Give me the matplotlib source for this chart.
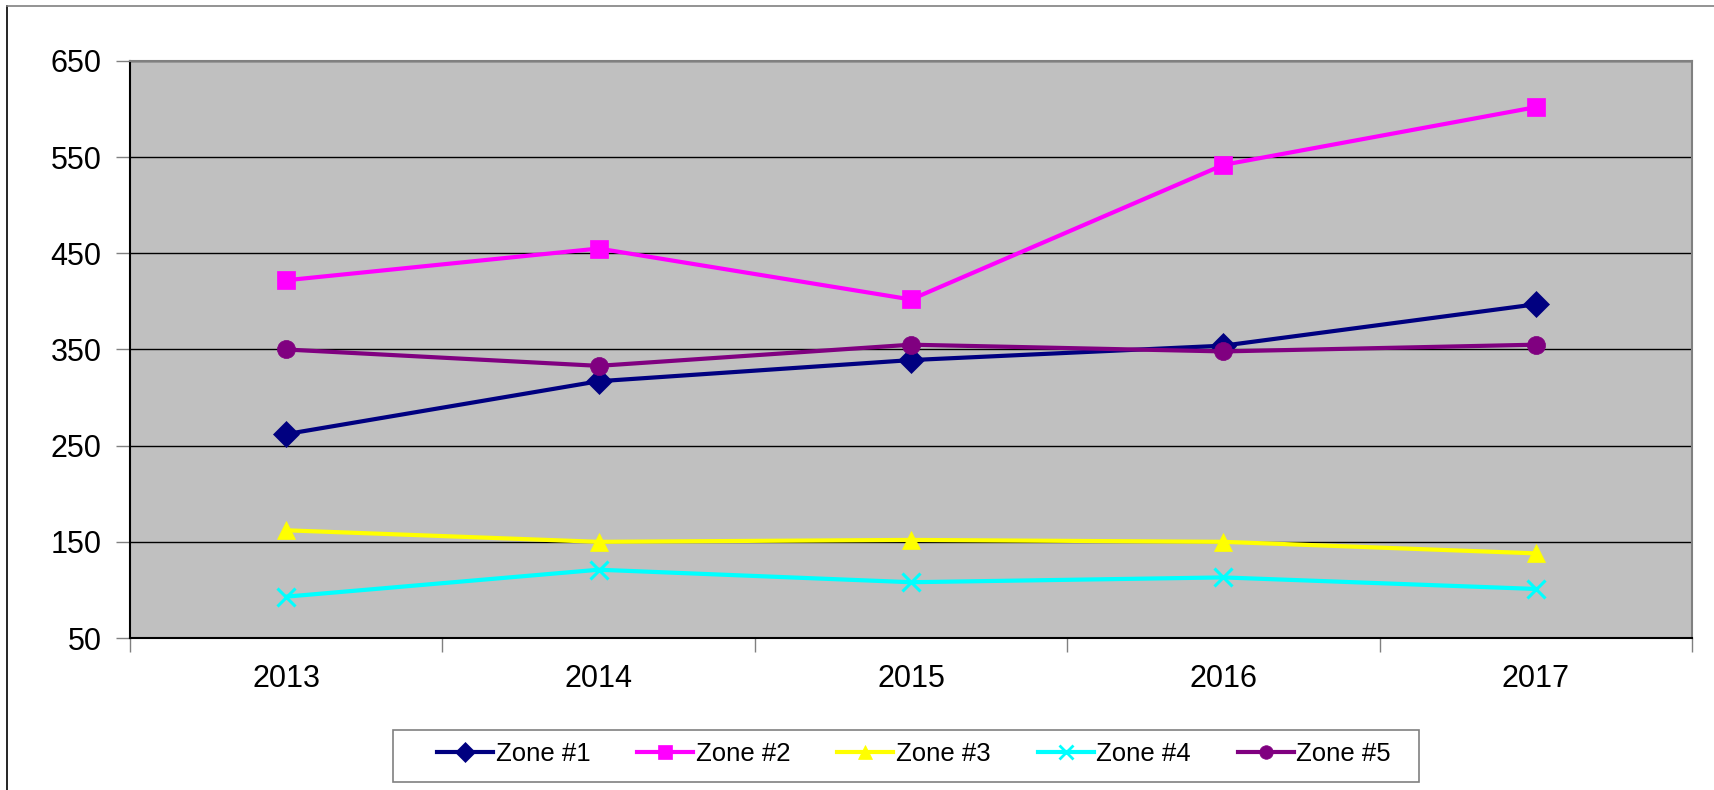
import matplotlib
matplotlib.use("Agg")
import matplotlib.pyplot as plt
from matplotlib.lines import Line2D
from matplotlib.patches import Rectangle

plt.rcParams['font.family'] = ['Liberation Sans', 'DejaVu Sans']

years = ['2013', '2014', '2015', '2016', '2017']
zone1 = [262, 317, 339, 354, 397]
zone2 = [422, 455, 402, 542, 602]
zone3 = [162, 150, 152, 150, 138]
zone4 = [93, 121, 108, 113, 101]
zone5 = [350, 333, 355, 348, 355]
y_ticks = [50, 150, 250, 350, 450, 550, 650]

series = [
    ('Zone #1', zone1, '#000080', 'D', 13),
    ('Zone #2', zone2, '#FF00FF', 's', 13),
    ('Zone #3', zone3, '#FFFF00', '^', 13),
    ('Zone #4', zone4, '#00FFFF', 'x', 13),
    ('Zone #5', zone5, '#800080', 'o', 13),
]

W, H = 1715, 790
fig = plt.figure(figsize=(W / 100, H / 100), dpi=100)
ax = fig.add_axes([130 / W, 1 - 638 / H, 1562 / W, 577 / H])
ax.set_facecolor('#C0C0C0')

xs = list(range(len(years)))
for name, vals, col, mk, ms in series:
    ax.plot(xs, vals, color=col, lw=3, marker=mk, markersize=ms,
            markeredgewidth=2.2 if mk == 'x' else 0.5, markeredgecolor=col,
            label=name, zorder=3)

ax.set_xlim(-0.5, 4.5)
ax.set_ylim(50, 650)
ax.set_yticks(y_ticks)
ax.tick_params(axis='y', labelsize=22, length=10, width=1, color='#808080', pad=10.5)
ax.yaxis.grid(True, color='black', lw=1)
ax.set_axisbelow(True)

# category labels centred, tick marks between categories
ax.set_xticks([i - 0.5 for i in range(len(years) + 1)])
ax.set_xticklabels([])
ax.set_xticks(xs, minor=True)
ax.set_xticklabels(years, minor=True)
ax.tick_params(axis='x', which='major', length=10, width=1, color='#808080')
ax.tick_params(axis='x', which='minor', length=0, labelsize=22, pad=19)

ax.spines['left'].set_color('black')
ax.spines['bottom'].set_color('black')
ax.spines['top'].set_color('#808080')
ax.spines['right'].set_color('#808080')
for s in ax.spines.values():
    s.set_linewidth(1.5)

# outer chart frame
fig.add_artist(Line2D([7 / W, 7 / W], [0, 1 - 6 / H], color='black', lw=1.2))
fig.add_artist(Line2D([7 / W, 1], [1 - 6 / H, 1 - 6 / H], color='#808080', lw=1.2))

# legend box
fig.add_artist(Rectangle((393 / W, 1 - 782 / H), (1419 - 393) / W, 52 / H,
                         transform=fig.transFigure, facecolor='white',
                         edgecolor='#808080', lw=1.2))

handles = [Line2D([], [], color=c, lw=3, marker=m,
                  markersize=ms * 0.75, markeredgewidth=2 if m == 'x' else 0.5,
                  markeredgecolor=c)
           for _, _, c, m, ms in series]
leg = fig.legend(handles, [s[0] for s in series], loc='center left',
                 bbox_to_anchor=(437 / W, 1 - 754 / H), ncol=5,
                 fontsize=18.5, frameon=False, handlelength=2.18,
                 handletextpad=0.1, columnspacing=1.83, borderpad=0,
                 borderaxespad=0)

fig.savefig('out.png', dpi=100)
